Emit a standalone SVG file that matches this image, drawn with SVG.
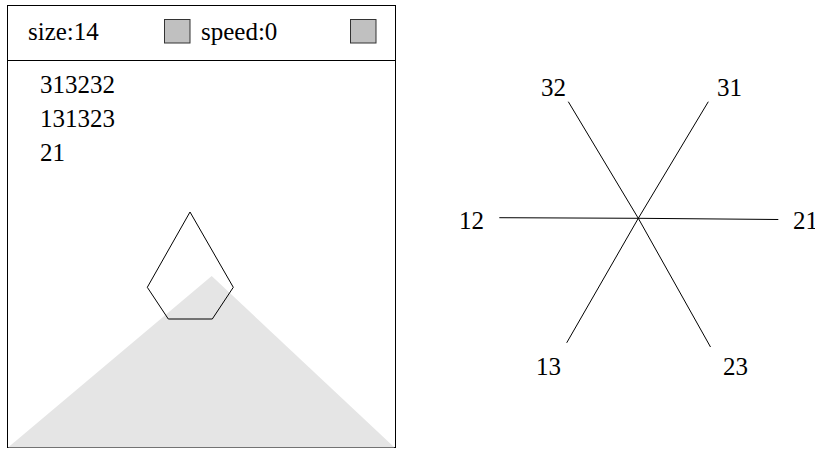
<svg xmlns="http://www.w3.org/2000/svg" width="815" height="449" viewBox="0 0 815 449">
<style>
.t{font-family:"Liberation Serif","Times New Roman",serif;font-size:25px;fill:#000}
.box{fill:#fff;stroke:#000;stroke-width:1}
.chk{fill:#c0c0c0;stroke:#333;stroke-width:1}
.ray{stroke:#000;stroke-width:1;fill:none}
</style>
<rect width="815" height="449" fill="#fff"/>
<g id="panel">
<rect class="box" x="7.5" y="5.5" width="388" height="442"/>
<line x1="7.5" y1="60.5" x2="395.5" y2="60.5" stroke="#000"/>
<text class="t" x="28" y="40">size:14</text>
<rect class="chk" x="164.5" y="19.5" width="25.5" height="23.5"/>
<text class="t" x="201" y="40">speed:0</text>
<rect class="chk" x="350.5" y="19.5" width="25.5" height="23.5"/>
<text class="t" x="40" y="93">313232</text>
<text class="t" x="40" y="127">131323</text>
<text class="t" x="40" y="161">21</text>
<polygon points="211.7,276 394.5,447.5 8,447.5" fill="#e5e5e5"/>
<polygon points="190,212 233.3,287.3 212.3,319 168.3,319 147.3,287.3" fill="none" stroke="#000" stroke-width="1"/>
</g>
<g id="connectors">
<line class="ray" x1="638.3" y1="218.3" x2="568.3" y2="101.7"/>
<line class="ray" x1="638.3" y1="218.3" x2="708.3" y2="101.7"/>
<line class="ray" x1="638.3" y1="218.3" x2="499.3" y2="217.7"/>
<line class="ray" x1="638.3" y1="218.3" x2="778.3" y2="219.5"/>
<line class="ray" x1="638.3" y1="218.3" x2="566.7" y2="342.8"/>
<line class="ray" x1="638.3" y1="218.3" x2="710.5" y2="347"/>
</g>
<g id="labels">
<g id="n32"><text class="t" x="541" y="96">32</text></g>
<g id="n31"><text class="t" x="717" y="96">31</text></g>
<g id="n12"><text class="t" x="459" y="229">12</text></g>
<g id="n21"><text class="t" x="793" y="229">21</text></g>
<g id="n13"><text class="t" x="536" y="375">13</text></g>
<g id="n23"><text class="t" x="723" y="375">23</text></g>
</g>
</svg>
